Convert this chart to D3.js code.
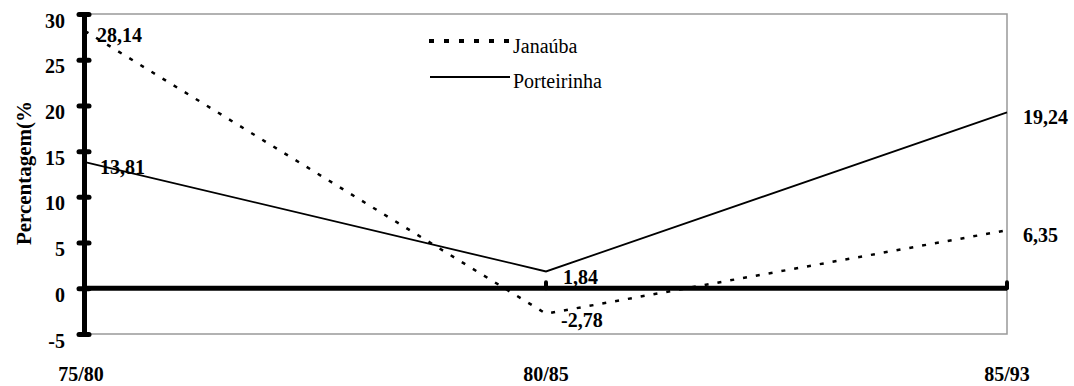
<!DOCTYPE html>
<html>
<head>
<meta charset="utf-8">
<script src="https://cdn.jsdelivr.net/npm/d3@7"></script>
<style>
    body { margin: 0; background: #fff; }
    svg { display: block; }
</style>
</head>
<body>
<div id="chart"></div>
<script>
const periods = ["75/80", "80/85", "85/93"]
const janauba = [28.14, -2.78, 6.35]
const porteirinha = [13.81, 1.84, 19.24]
const yTicks = [-5, 0, 5, 10, 15, 20, 25, 30]
const seriesNames = ["Janaúba", "Porteirinha"]

const FONT = "Liberation Serif"
const width = 1074, height = 386
const margin = {top: 14, right: 67, bottom: 52, left: 85}

const svg = d3.select("#chart")
    .append("svg")
    .attr("width", width)
    .attr("height", height)
    .attr("font-family", FONT)

const x = d3.scalePoint()
    .domain(periods)
    .range([margin.left, width - margin.right])

const y = d3.scaleLinear()
    .domain([-5, 30])
    .range([height - margin.bottom, margin.top])

// plot frame (grey)
svg.append("rect")
    .attr("x", margin.left)
    .attr("y", y(30))
    .attr("width", x("85/93") - margin.left)
    .attr("height", y(-5) - y(30))
    .attr("fill", "none")
    .attr("stroke", "#999")
    .attr("stroke-width", 1.5)

// zero line
svg.append("line")
    .attr("x1", margin.left - 1)
    .attr("x2", x("85/93"))
    .attr("y1", y(0))
    .attr("y2", y(0))
    .attr("stroke", "#000")
    .attr("stroke-width", 5)

// x ticks on the zero line
svg.selectAll(".xtick")
    .data(periods.slice(1))
    .enter()
    .append("line")
    .attr("x1", d => x(d))
    .attr("x2", d => x(d))
    .attr("y1", y(0) - 6)
    .attr("y2", y(0))
    .attr("stroke", "#000")
    .attr("stroke-width", 4)
    .attr("stroke-linecap", "round")

// y axis
const yAxis = svg.append("g")
    .attr("transform", `translate(${margin.left - 1},0)`)
    .call(d3.axisLeft(y)
        .tickValues(yTicks)
        .tickFormat(d => String(d))
        .tickSize(0)
        .tickPadding(19))
    .attr("font-family", FONT)
yAxis.select(".domain")
    .attr("stroke", "#000")
    .attr("stroke-width", 5)
yAxis.selectAll(".tick line").remove()
yAxis.selectAll(".tick").append("line")
    .attr("x1", -5)
    .attr("x2", 5)
    .attr("stroke", "#000")
    .attr("stroke-width", 5)
    .attr("stroke-linecap", "round")
yAxis.selectAll(".tick text")
    .attr("font-size", 20)
    .attr("font-weight", "bold")
    .attr("fill", "#000")
    .attr("dy", 13)

// y label
svg.append("text")
    .attr("transform", `translate(31,173) rotate(-90)`)
    .attr("text-anchor", "middle")
    .attr("font-size", 21)
    .attr("font-weight", "bold")
    .text("Percentagem(%")

// x labels
svg.selectAll(".xlabel")
    .data(periods)
    .enter()
    .append("text")
    .attr("x", (d, i) => x(d) + (i === 0 ? -4 : 0))
    .attr("y", 381)
    .attr("text-anchor", "middle")
    .attr("font-size", 20)
    .attr("font-weight", "bold")
    .text(d => d)

const line = d3.line()
    .x((d, i) => x(periods[i]))
    .y(d => y(d))

svg.append("path")
    .datum(janauba)
    .attr("d", line)
    .attr("fill", "none")
    .attr("stroke", "#000")
    .attr("stroke-width", 2.5)
    .attr("stroke-dasharray", "4 9")

svg.append("path")
    .datum(porteirinha)
    .attr("d", line)
    .attr("fill", "none")
    .attr("stroke", "#000")
    .attr("stroke-width", 1.8)

// value labels
const fmt = v => v.toFixed(2).replace(".", ",")
const labelOffsets = {
    janauba: [[12, 11], [15, 13], [16, 12]],
    porteirinha: [[15, 12], [17, 13], [16, 12]]
}
function addLabels(values, offsets) {
    svg.selectAll(null)
        .data(values)
        .enter()
        .append("text")
        .attr("x", (d, i) => x(periods[i]) + offsets[i][0])
        .attr("y", (d, i) => y(d) + offsets[i][1])
        .attr("font-size", 20)
        .attr("font-weight", "bold")
        .text(d => fmt(d))
}
addLabels(janauba, labelOffsets.janauba)
addLabels(porteirinha, labelOffsets.porteirinha)

// legend
const legend = svg.append("g").attr("transform", "translate(429,0)")
legend.append("line")
    .attr("x1", 0).attr("x2", 84)
    .attr("y1", 41).attr("y2", 41)
    .attr("stroke", "#000")
    .attr("stroke-width", 4)
    .attr("stroke-dasharray", "5 10")
legend.append("line")
    .attr("x1", 1).attr("x2", 81)
    .attr("y1", 77).attr("y2", 77)
    .attr("stroke", "#000")
    .attr("stroke-width", 1.8)
legend.selectAll(".ltext")
    .data(seriesNames)
    .enter()
    .append("text")
    .attr("x", 84)
    .attr("y", (d, i) => 53 + i * 35)
    .attr("font-size", 20)
    .text(d => d)
</script>
</body>
</html>
